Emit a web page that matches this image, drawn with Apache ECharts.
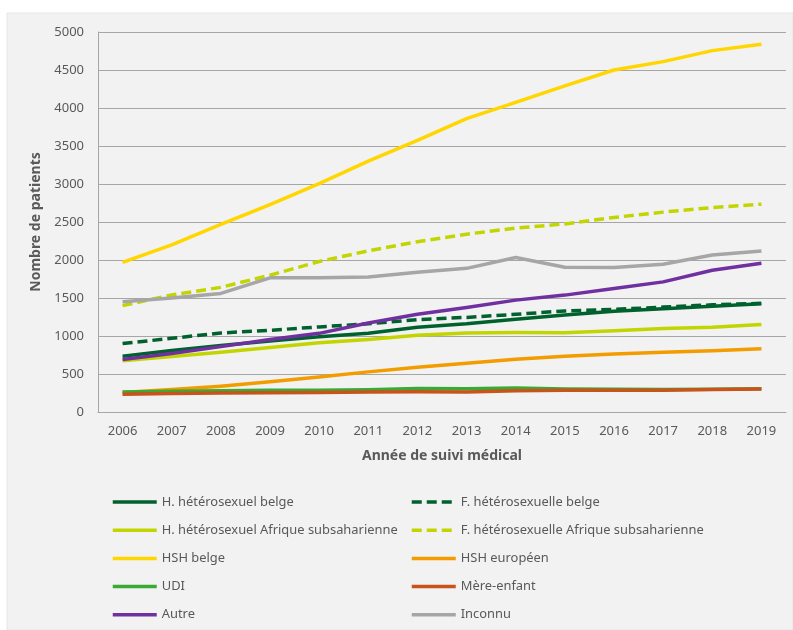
<!DOCTYPE html>
<html>
<head>
<meta charset="utf-8">
<script src="https://cdn.jsdelivr.net/npm/echarts@6/dist/echarts.min.js"></script>
<style>html,body{margin:0;padding:0;background:#fff;}#c{width:793px;height:630px;}</style>
</head>
<body>
<div id="c"></div>
<script>
var years = ['2006','2007','2008','2009','2010','2011','2012','2013','2014','2015','2016','2017','2018','2019'];
var hHetBelge   = [735, 810, 875, 935, 990, 1035, 1115, 1160, 1220, 1275, 1325, 1360, 1390, 1425];
var fHetBelge   = [900, 970, 1040, 1075, 1120, 1160, 1215, 1245, 1285, 1330, 1350, 1380, 1410, 1430];
var hHetAfrique = [675, 730, 785, 850, 910, 955, 1010, 1040, 1045, 1043, 1070, 1100, 1115, 1152];
var fHetAfrique = [1400, 1540, 1640, 1800, 1980, 2120, 2240, 2340, 2420, 2475, 2560, 2630, 2690, 2735];
var hshBelge    = [1970, 2200, 2470, 2730, 3005, 3300, 3575, 3860, 4075, 4290, 4500, 4610, 4755, 4840];
var hshEuropeen = [255, 295, 340, 398, 462, 528, 590, 640, 695, 735, 762, 785, 807, 833];
var udi         = [262, 272, 280, 285, 285, 292, 310, 305, 315, 302, 300, 295, 300, 305];
var mereEnfant  = [232, 242, 250, 252, 255, 262, 268, 262, 278, 285, 287, 285, 295, 302];
var autre       = [690, 770, 860, 955, 1035, 1170, 1285, 1375, 1472, 1538, 1625, 1712, 1865, 1957];
var inconnu     = [1450, 1500, 1560, 1765, 1768, 1775, 1840, 1890, 2032, 1905, 1900, 1945, 2065, 2118];
var yTicks = {min: 0, max: 5000, interval: 500};

var names = ['H. hétérosexuel belge','F. hétérosexuelle belge','H. hétérosexuel Afrique subsaharienne','F. hétérosexuelle Afrique subsaharienne','HSH belge','HSH européen','UDI','Mère-enfant','Autre','Inconnu'];
var datas = [hHetBelge, fHetBelge, hHetAfrique, fHetAfrique, hshBelge, hshEuropeen, udi, mereEnfant, autre, inconnu];
var colors = ['#00612e','#00612e','#c2d500','#c2d500','#ffd600','#f39c00','#3aaa35','#c8531b','#7030a0','#a6a6a6'];
var dashed = [false,true,false,true,false,false,false,false,false,false];

var series = names.map(function(n,i){
  return {
    name: n, type: 'line', data: datas[i], symbol: 'none', smooth: false,
    lineStyle: {color: colors[i], width: 3.5, type: dashed[i] ? [10,5] : 'solid', cap: 'butt', join: 'round'},
    itemStyle: {color: colors[i]},
    emphasis: {disabled: true}, z: 2 + i
  };
});

var FONT = 'Noto Sans, sans-serif';
var legendText = {color: '#595959', fontSize: 12.9, fontFamily: FONT};
var legendCommon = {orient: 'vertical', top: 495.5, padding: 0, itemWidth: 44, itemHeight: 14, itemGap: 15.2,
  textStyle: legendText, selectedMode: false, itemStyle: {opacity: 0, borderWidth: 0},
  lineStyle: {width: 3.5}};
var chart = echarts.init(document.getElementById('c'), null, {renderer: 'canvas'});
chart.setOption({
  backgroundColor: '#ffffff',
  animation: false,
  graphic: [{type: 'rect', shape: {x: 7, y: 13, width: 786, height: 617}, style: {fill: '#f2f2f2', stroke: '#e6e6e6', lineWidth: 1}, z: -10, silent: true}],
  grid: {left: 98, right: 7, top: 32, bottom: 218, containLabel: false},
  xAxis: {
    type: 'category', data: years, boundaryGap: true,
    name: 'Année de suivi médical', nameLocation: 'middle', nameGap: 37,
    nameTextStyle: {color: '#595959', fontWeight: 'bold', fontSize: 14, fontFamily: FONT},
    axisLine: {lineStyle: {color: '#a6a6a6', width: 1}},
    axisTick: {show: false},
    axisLabel: {color: '#595959', fontSize: 13, margin: 13, fontFamily: FONT},
    splitLine: {show: false}
  },
  yAxis: {
    type: 'value', min: yTicks.min, max: yTicks.max, interval: yTicks.interval,
    name: 'Nombre de patients', nameLocation: 'middle', nameGap: 49, nameRotate: 90,
    nameTextStyle: {color: '#595959', fontWeight: 'bold', fontSize: 14, fontFamily: FONT},
    axisLine: {show: true, lineStyle: {color: '#a6a6a6', width: 1}},
    axisTick: {show: false},
    axisLabel: {color: '#595959', fontSize: 13, margin: 14, fontFamily: FONT, formatter: function(v){ return String(v); }},
    splitLine: {show: true, lineStyle: {color: '#a6a6a6', width: 1}}
  },
  legend: [
    Object.assign({data: [names[0], names[2], names[4], names[6], names[8]], left: 111}, legendCommon),
    Object.assign({data: [names[1], names[3], names[5], names[7], names[9]], left: 410}, legendCommon)
  ],
  series: series
});
</script>
</body>
</html>
